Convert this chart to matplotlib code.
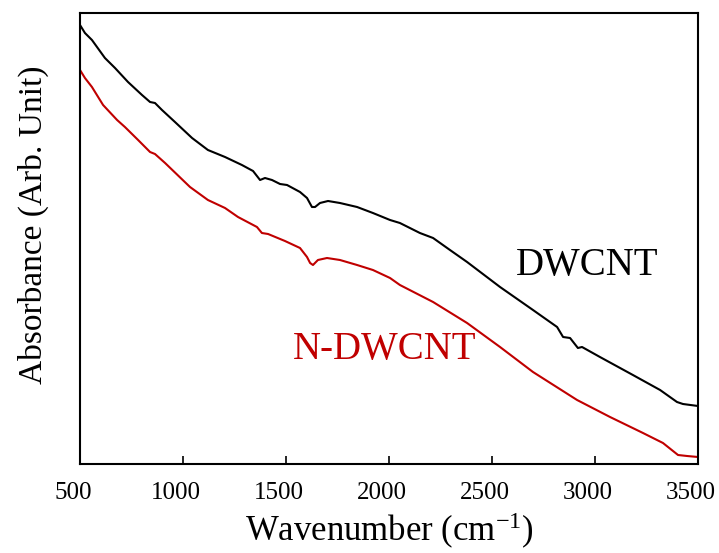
import matplotlib
matplotlib.use("Agg")
import matplotlib.pyplot as plt
from matplotlib.transforms import ScaledTranslation

plt.rcParams['font.family'] = ['Liberation Serif', 'DejaVu Serif']
plt.rcParams['mathtext.fontset'] = 'custom'
plt.rcParams['mathtext.rm'] = 'Liberation Serif'
plt.rcParams['mathtext.it'] = 'Liberation Serif:italic'

# Data (absorbance in arbitrary units)
wn_dw = [500, 524, 558, 621, 670, 733, 801, 840, 864, 898, 961, 1044, 1121, 1204, 1286,
         1340, 1374, 1398, 1432, 1471, 1505, 1568, 1602, 1626, 1641, 1665, 1704, 1762,
         1845, 1922, 2005, 2053, 2150, 2214, 2296, 2379, 2539, 2699, 2816, 2845, 2879,
         2917, 2937, 3024, 3184, 3316, 3398, 3427, 3500]
abs_dw = [4.39, 4.31, 4.24, 4.06, 3.96, 3.82, 3.69, 3.62, 3.61, 3.54, 3.42, 3.26, 3.14, 3.07, 2.99,
          2.93, 2.84, 2.86, 2.84, 2.80, 2.79, 2.72, 2.66, 2.57, 2.57, 2.61, 2.63, 2.61,
          2.57, 2.51, 2.44, 2.41, 2.31, 2.26, 2.14, 2.02, 1.77, 1.54, 1.37, 1.27, 1.26,
          1.16, 1.17, 1.07, 0.89, 0.74, 0.62, 0.60, 0.58]

wn_ndw = [500, 524, 558, 612, 680, 718, 782, 840, 864, 913, 1034, 1121, 1204, 1267, 1359,
          1383, 1413, 1495, 1568, 1602, 1617, 1631, 1655, 1699, 1762, 1845, 1922, 2005,
          2053, 2214, 2379, 2539, 2699, 2913, 3073, 3233, 3330, 3403, 3447, 3500]
abs_ndw = [3.94, 3.86, 3.77, 3.59, 3.44, 3.37, 3.24, 3.12, 3.10, 3.01, 2.77, 2.64, 2.56, 2.47, 2.37,
           2.31, 2.30, 2.23, 2.16, 2.07, 2.01, 1.99, 2.04, 2.06, 2.04, 1.99, 1.94, 1.86,
           1.79, 1.62, 1.41, 1.17, 0.92, 0.64, 0.47, 0.31, 0.21, 0.09, 0.08, 0.07]

xticks = [500, 1000, 1500, 2000, 2500, 3000, 3500]

fig = plt.figure(figsize=(7.19, 5.53), dpi=100)
ax = fig.add_axes([80/719, 1-464/553, 618/719, 451/553])

ax.plot(wn_dw, abs_dw, color='black', lw=1.5)
ax.plot(wn_ndw, abs_ndw, color='#C00000', lw=1.5)

ax.set_xlim(500, 3500)
ax.set_ylim(0, 4.51)
ax.set_xticks(xticks)
ax.set_xticklabels([str(t) for t in xticks])
ax.set_yticks([])
ax.tick_params(axis='x', direction='in', length=6, width=1.2, labelsize=18, pad=13)
for s in ax.spines.values():
    s.set_linewidth(1.5)

off = ScaledTranslation(-0.07, 0, fig.dpi_scale_trans)
for lab in ax.get_xticklabels():
    lab.set_transform(lab.get_transform() + off)

ax.set_xlabel('Wavenumber (cm$^{-1}$)', fontsize=25, labelpad=5)
ax.set_ylabel('Absorbance (Arb. Unit)', fontsize=24)
ax.yaxis.set_label_coords(-0.05, 0.53)

ax.text(2961, 1.99, 'DWCNT', fontsize=28, color='black', ha='center', va='center')
ax.text(1981, 1.15, 'N-DWCNT', fontsize=28, color='#C00000', ha='center', va='center')

fig.savefig('out.png', dpi=100)
